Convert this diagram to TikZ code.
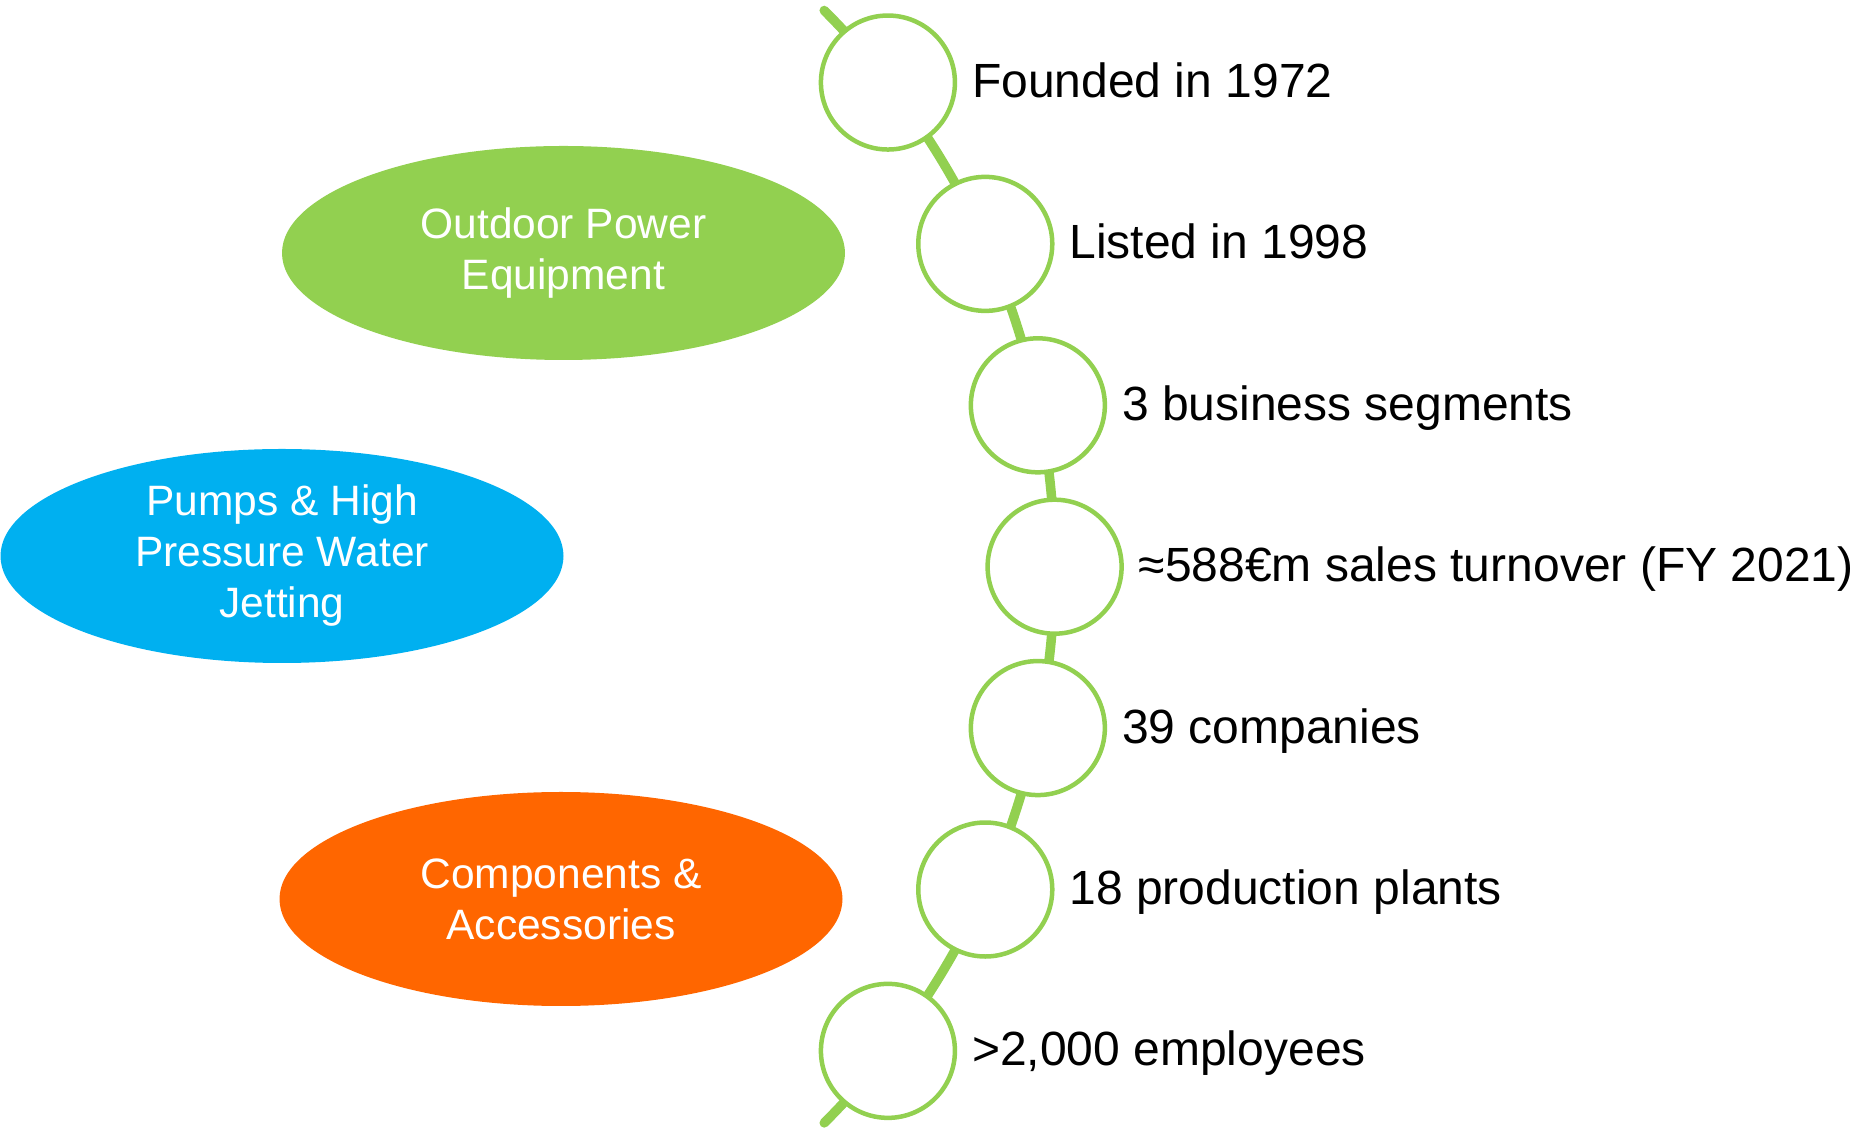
\documentclass[tikz,border=0pt]{standalone}
\usepackage{fontspec}
\setmainfont{Liberation Sans}
\usetikzlibrary{shapes.geometric,positioning}
\definecolor{lgreen}{HTML}{92D050}
\definecolor{lblue}{HTML}{00B0F0}
\definecolor{lorange}{HTML}{FF6600}
\tikzset{
  spine/.style={draw=lgreen, line width=9.5pt, line cap=round},
  dot/.style={circle, draw=lgreen, line width=4.5pt, fill=white, minimum size=134pt, inner sep=0pt},
  lbl/.style={inner sep=0pt, outer sep=0pt, font=\fontsize{48}{58}\selectfont, text height=30pt, text depth=0pt, anchor=west},
  seg/.style={ellipse, draw=none, minimum width=563pt, minimum height=214pt, inner sep=0pt, text=white, align=center, font=\fontsize{42.5}{51}\selectfont}
}
\begin{document}
\begin{tikzpicture}[x=1pt,y=1pt]
\useasboundingbox (0,0) rectangle (1865,1132);
\coordinate (O) at (268,565.3);
\coordinate (top) at ([shift={(45:786.6pt)}]O);
\draw[spine] (top) arc[start angle=45, end angle=-45, radius=786.6pt];
% segment ellipses
\node[seg, fill=lgreen] (ope) at (563.5,879) {Outdoor Power\\Equipment};
\node[seg, fill=lblue] (pump) at (282,576) {Pumps \& High\\Pressure Water\\Jetting};
\node[seg, fill=lorange] (comp) at (561,233) {Components \&\\Accessories};
% circles
\node[dot] (c1) at ([shift={(37.99:786.6pt)}]O) {};
\node[dot] (c2) at ([shift={(24.23:786.6pt)}]O) {};
\node[dot] (c3) at ([shift={(11.84:786.6pt)}]O) {};
\node[dot] (c4) at ([shift={(0:786.6pt)}]O) {};
\node[dot] (c5) at ([shift={(-11.84:786.6pt)}]O) {};
\node[dot] (c6) at ([shift={(-24.23:786.6pt)}]O) {};
\node[dot] (c7) at ([shift={(-37.99:786.6pt)}]O) {};
% labels
\node[lbl, right=15pt of c1] (t1) {Founded in 1972};
\node[lbl, right=15pt of c2] (t2) {Listed in 1998};
\node[lbl, right=15pt of c3] (t3) {3 business segments};
\node[lbl, right=15pt of c4] (t4) {≈588€m sales turnover (FY 2021)};
\node[lbl, right=15pt of c5] (t5) {39 companies};
\node[lbl, right=15pt of c6] (t6) {18 production plants};
\node[lbl, right=15pt of c7] (t7) {>2,000 employees};
\end{tikzpicture}
\end{document}
